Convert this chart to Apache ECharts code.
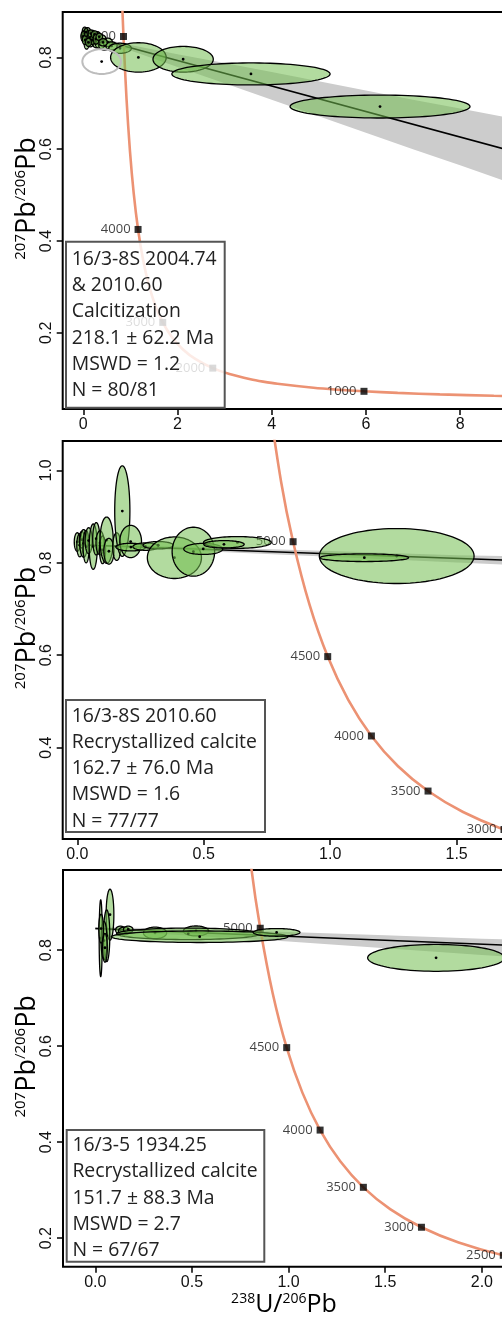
<!DOCTYPE html>
<html><head><meta charset="utf-8">
<script src="https://cdn.jsdelivr.net/npm/echarts@6/dist/echarts.min.js"></script>
<style>html,body{margin:0;padding:0;background:#fff}#c{width:502px;height:1319px}</style>
</head><body><div id="c"></div>
<script>
// ---------- concordia (Tera-Wasserburg) table ----------
const concordiaAge = [600,650,700,800,900,1000,1100,1200,1400,1500,1600,1800,2000,2250,2500,2750,3000,3250,3500,3750,4000,4250,4500,4750,5000,5200,5500];
const concordiaX = [10.2517,9.4260,8.7182,7.5684,6.6743,5.9594,5.3746,4.8875,4.1226,3.8170,3.5497,3.1046,2.7490,2.3941,2.1108,1.8796,1.6874,1.5254,1.3869,1.2673,1.1630,1.0714,0.9902,0.9180,0.8533,0.8062,0.7423];
const concordiaY = [0.05993,0.06133,0.06279,0.06583,0.06907,0.07253,0.07622,0.08016,0.08885,0.09364,0.09876,0.11009,0.12304,0.14192,0.16434,0.19099,0.22276,0.26066,0.30597,0.36019,0.42520,0.50322,0.59698,0.70978,0.84565,0.97421,1.20723];
const markerAges1 = [5000,4000,3000,2000,1000];
const markerAges2 = [5000,4500,4000,3500,3000];
const markerAges3 = [5000,4500,4000,3500,3000,2500];

// ---------- ellipses: [x, y, rx, ry, rho] ----------
const ellipses1 = [
 [0.02,0.850,0.06,0.010,0.3],[0.05,0.845,0.07,0.012,0],[0.08,0.852,0.05,0.008,0],[0.10,0.840,0.09,0.011,0.2],
 [0.12,0.848,0.06,0.009,0],[0.15,0.835,0.08,0.012,0],[0.18,0.845,0.07,0.010,0],[0.20,0.852,0.05,0.007,0],
 [0.22,0.838,0.10,0.010,0],[0.25,0.843,0.08,0.009,0],[0.28,0.832,0.09,0.011,0],[0.30,0.848,0.06,0.008,0],
 [0.33,0.838,0.07,0.009,0],[0.36,0.829,0.10,0.010,0],[0.40,0.840,0.08,0.009,0],[0.45,0.826,0.12,0.010,0],
 [0.52,0.833,0.10,0.009,0],[0.60,0.825,0.12,0.009,0],[0.07,0.830,0.05,0.012,0],[0.03,0.858,0.05,0.008,0],
 [0.00,0.846,0.05,0.011,0],[0.04,0.838,0.06,0.010,0],[0.09,0.858,0.06,0.007,0],[0.13,0.842,0.05,0.012,0],
 [0.16,0.852,0.06,0.008,0],[0.19,0.838,0.05,0.010,0],[0.24,0.850,0.07,0.008,0],[0.27,0.840,0.06,0.011,0],
 [0.11,0.833,0.06,0.009,0],[0.06,0.855,0.04,0.009,0],[0.34,0.845,0.07,0.008,0],[0.42,0.833,0.09,0.008,0],
 [0.78,0.820,0.24,0.011,0],[1.17,0.800,0.59,0.032,0],[2.12,0.796,0.64,0.028,0],[3.56,0.764,1.68,0.024,0],[6.30,0.693,1.91,0.025,0]
];
const rejected1 = [[0.39,0.791,0.41,0.027,0]];
const ellipses2 = [
 [0.000,0.845,0.012,0.020,0],[0.010,0.838,0.012,0.025,0],[0.018,0.850,0.010,0.018,0],[0.025,0.842,0.015,0.030,0],
 [0.035,0.835,0.012,0.035,0],[0.045,0.848,0.014,0.028,0],[0.063,0.835,0.016,0.049,0],[0.075,0.852,0.014,0.035,0],
 [0.090,0.843,0.016,0.026,0],[0.100,0.828,0.012,0.030,0],[0.116,0.849,0.026,0.050,0],[0.125,0.825,0.020,0.028,0],
 [0.156,0.835,0.016,0.030,0],[0.178,0.912,0.030,0.098,0],[0.211,0.846,0.043,0.035,0],[0.212,0.834,0.059,0.0083,0],
 [0.270,0.835,0.050,0.008,0],[0.320,0.838,0.060,0.008,0],[0.384,0.811,0.107,0.045,0],[0.459,0.824,0.084,0.053,0],
 [0.498,0.830,0.077,0.012,0],[0.633,0.844,0.134,0.0127,0],[0.580,0.840,0.080,0.008,0],
 [1.263,0.8147,0.306,0.0595,0],[1.135,0.811,0.175,0.0083,0]
];
const ellipses3 = [
 [0.028,0.825,0.008,0.080,0],[0.076,0.874,0.020,0.053,0],[0.059,0.830,0.016,0.054,0],[0.045,0.820,0.015,0.040,0],
 [0.030,0.845,0.012,0.030,0],[0.050,0.805,0.012,0.030,0],[0.130,0.842,0.025,0.008,0],[0.150,0.840,0.030,0.008,0],
 [0.170,0.843,0.025,0.007,0],[0.309,0.836,0.060,0.012,0],[0.521,0.840,0.065,0.0104,0],[0.481,0.834,0.371,0.012,0],
 [0.540,0.828,0.457,0.012,0],[0.938,0.837,0.121,0.008,0],[1.763,0.784,0.354,0.028,0]
];

// ---------- regression lines and error envelopes ----------
const line1X = [0, 10], line1Y = [0.849, 0.571];
const band1X = [0,0.5,1,2,3,4,5,6,7,8,9,10];
const band1Lo = [0.845,0.831,0.815,0.779,0.744,0.708,0.672,0.636,0.600,0.565,0.529,0.493];
const band1Hi = [0.853,0.839,0.827,0.807,0.788,0.768,0.748,0.728,0.708,0.689,0.669,0.649];
const line2X = [0, 1.9], line2Y = [0.8388, 0.8018];
const band2X = [0,0.5,1,1.5,1.9];
const band2Lo = [0.8368,0.8250,0.8130,0.8006,0.7908];
const band2Hi = [0.8408,0.8336,0.8256,0.8164,0.8128];
const line3X = [0, 2.4], line3Y = [0.845, 0.806];
const band3X = [0,0.5,1,1.5,2,2.4];
const band3Lo = [0.842,0.830,0.818,0.804,0.790,0.779];
const band3Hi = [0.848,0.844,0.838,0.831,0.824,0.820];

// ---------- tick values ----------
const xTicks1 = [0,2,4,6,8], yTicks1 = [0.2,0.4,0.6,0.8];
const xTicks2 = [0,0.5,1.0,1.5], yTicks2 = [0.4,0.6,0.8,1.0];
const xTicks3 = [0,0.5,1.0,1.5,2.0], yTicks3 = [0.2,0.4,0.6,0.8];

// ---------- legend texts ----------
const legend1 = ['16/3-8S 2004.74','& 2010.60','Calcitization','218.1 \u00b1 62.2 Ma','MSWD = 1.2','N = 80/81'];
const legend2 = ['16/3-8S 2010.60','Recrystallized calcite','162.7 \u00b1 76.0 Ma','MSWD = 1.6','N = 77/77'];
const legend3 = ['16/3-5 1934.25','Recrystallized calcite','151.7 \u00b1 88.3 Ma','MSWD = 2.7','N = 67/67'];

// ================= layout =================
const panels = [
 {left:62.7, top:12, width:491.6, height:397, xmin:-0.437, xmax:10, ymin:0.034, ymax:0.899,
  xt:xTicks1, yt:yTicks1, xf:v=>String(v), yf:v=>v.toFixed(1), ell:ellipses1, rej:rejected1,
  lx:line1X, ly:line1Y, bx:band1X, blo:band1Lo, bhi:band1Hi, ages:markerAges1},
 {left:62.7, top:441, width:495.1, height:398, xmin:-0.0577, xmax:1.9, ymin:0.2022, ymax:1.0636,
  xt:xTicks2, yt:yTicks2, xf:v=>v.toFixed(1), yf:v=>v.toFixed(1), ell:ellipses2, rej:[],
  lx:line2X, ly:line2Y, bx:band2X, blo:band2Lo, bhi:band2Hi, ages:markerAges2},
 {left:63, top:870, width:496.2, height:396.7, xmin:-0.1671, xmax:2.4, ymin:0.1406, ymax:0.967,
  xt:xTicks3, yt:yTicks3, xf:v=>v.toFixed(1), yf:v=>v.toFixed(1), ell:ellipses3, rej:[],
  lx:line3X, ly:line3Y, bx:band3X, blo:band3Lo, bhi:band3Hi, ages:markerAges3}
];
const legendBoxes = [
 {x:66, y:241.7, w:158.7, h:166, y0:259.3, lines:legend1},
 {x:66, y:700, w:199, h:132, y0:716, lines:legend2},
 {x:66.7, y:1130, w:197.6, h:131.7, y0:1145.5, lines:legend3}
];
const tickFont = 'Liberation Sans';
const textFont = 'Open Sans';

const grids = [], xAxes = [], yAxes = [], series = [], graphics = [];

function ellipseRenderer(fill, stroke, lw, dot){
 return function(params, api){
  const cx = api.value(0), cy = api.value(1), rx = api.value(2), ry = api.value(3), rho = api.value(4);
  const s = Math.sqrt(1 - rho*rho);
  const pts = [];
  for (let i = 0; i < 90; i++){
   const t = i / 90 * 2 * Math.PI;
   pts.push(api.coord([cx + rx*Math.cos(t), cy + ry*(rho*Math.cos(t) + s*Math.sin(t))]));
  }
  const c = api.coord([cx, cy]);
  const ch = [{type:'polygon', shape:{points:pts}, style:{fill:fill, stroke:stroke, lineWidth:lw}}];
  if (dot) ch.push({type:'circle', shape:{cx:c[0], cy:c[1], r:1.4}, style:{fill:'#000'}});
  return {type:'group', children:ch};
 };
}

panels.forEach((p, i) => {
 grids.push({left:p.left, top:p.top, width:p.width, height:p.height, show:true, borderColor:'#000', borderWidth:2,
  backgroundColor:'transparent', containLabel:false, outerBoundsMode:'none'});
 xAxes.push({gridIndex:i, type:'value', min:p.xmin, max:p.xmax, position:'bottom',
  axisLine:{show:false, onZero:false}, splitLine:{show:false},
  axisTick:{show:true, customValues:p.xt, length:6, lineStyle:{color:'#000', width:1.5}},
  axisLabel:{customValues:p.xt, formatter:p.xf, fontSize:16, color:'#111', fontFamily:tickFont, margin:8}});
 yAxes.push({gridIndex:i, type:'value', min:p.ymin, max:p.ymax, position:'left',
  axisLine:{show:false, onZero:false}, splitLine:{show:false},
  axisTick:{show:true, customValues:p.yt, length:6, lineStyle:{color:'#000', width:1.5}},
  axisLabel:{customValues:p.yt, formatter:p.yf, fontSize:16, color:'#111', fontFamily:tickFont, rotate:90, margin:8}});

 series.push({type:'custom', xAxisIndex:i, yAxisIndex:i, clip:true, z:1, silent:true,
  data:[[p.bx[0], p.blo[0]]],
  renderItem:(params, api) => {
   const pts = [];
   for (let k = 0; k < p.bx.length; k++) pts.push(api.coord([p.bx[k], p.bhi[k]]));
   for (let k = p.bx.length - 1; k >= 0; k--) pts.push(api.coord([p.bx[k], p.blo[k]]));
   return {type:'polygon', shape:{points:pts}, style:{fill:'#cccccc'}};
  }});
 series.push({type:'line', xAxisIndex:i, yAxisIndex:i, z:2, symbol:'none', silent:true,
  data:p.lx.map((x, k) => [x, p.ly[k]]), lineStyle:{color:'#000', width:1.5}});
 series.push({type:'line', xAxisIndex:i, yAxisIndex:i, z:3, symbol:'none', smooth:0.3, silent:true, clip:true,
  data:concordiaX.map((x, k) => [x, concordiaY[k]]), lineStyle:{color:'#ec9273', width:2.6}});
 series.push({type:'scatter', xAxisIndex:i, yAxisIndex:i, z:4, symbol:'rect', symbolSize:7, clip:true, silent:true,
  itemStyle:{color:'#000'},
  label:{show:true, position:'left', distance:4, formatter:d => String(d.value[2]), fontSize:13, color:'#111', fontFamily:textFont},
  data:p.ages.map(a => { const k = concordiaAge.indexOf(a); return [concordiaX[k], concordiaY[k], a]; })});
 series.push({type:'custom', xAxisIndex:i, yAxisIndex:i, clip:true, z:5, silent:true,
  data:p.ell, renderItem:ellipseRenderer('rgba(115,190,80,0.55)', '#000', 1.3, true)});
 if (p.rej.length) series.push({type:'custom', xAxisIndex:i, yAxisIndex:i, clip:true, z:5, silent:true,
  data:p.rej, renderItem:ellipseRenderer('none', '#bdbdbd', 2, true)});

 graphics.push({type:'text', x:27, y:p.top + p.height/2 - 12, rotation:Math.PI/2, z:20,
  style:{text:'{s|207}{b|Pb}{s|/206}{b|Pb}', align:'center', verticalAlign:'middle', fill:'#000',
   rich:{s:{fontSize:15, fontFamily:textFont, verticalAlign:'top', fill:'#000'}, b:{fontSize:27, fontFamily:textFont, fill:'#000'}}}});
});

graphics.push({type:'text', x:284, y:1305, z:20,
 style:{text:'{s|238}{b|U/}{s|206}{b|Pb}', align:'center', verticalAlign:'middle', fill:'#000',
  rich:{s:{fontSize:14, fontFamily:textFont, verticalAlign:'top', fill:'#000'}, b:{fontSize:25, fontFamily:textFont, fill:'#000'}}}});

legendBoxes.forEach(b => {
 graphics.push({type:'rect', z:30, shape:{x:b.x, y:b.y, width:b.w, height:b.h},
  style:{fill:'rgba(255,255,255,0.82)', stroke:'#555', lineWidth:2}});
 b.lines.forEach((t, k) => {
  graphics.push({type:'text', z:31, x:b.x + 5.7, y:b.y0 + k*26.3,
   style:{text:t, fontSize:19.4, fontFamily:textFont, fill:'#222', align:'left', verticalAlign:'middle'}});
 });
});

const chart = echarts.init(document.getElementById('c'), null, {renderer:'canvas'});
chart.setOption({animation:false, grid:grids, xAxis:xAxes, yAxis:yAxes, series:series, graphic:graphics});
</script></body></html>
